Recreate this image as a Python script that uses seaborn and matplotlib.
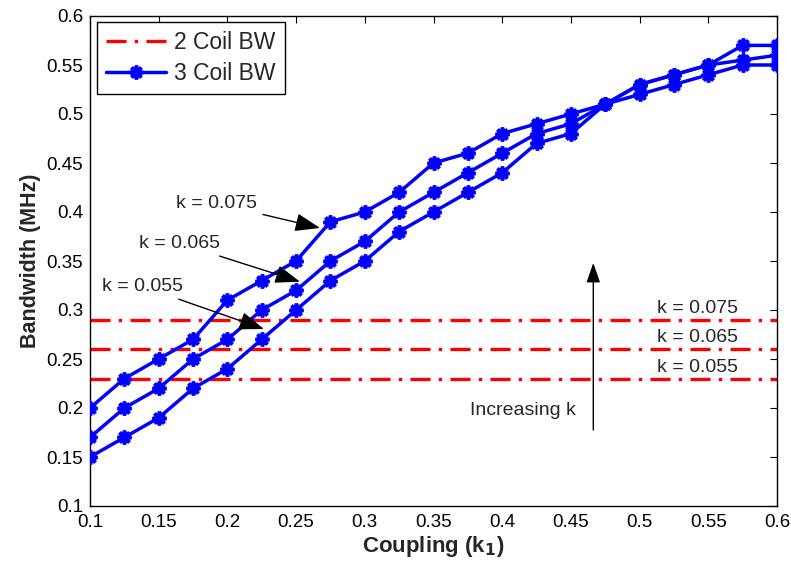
import matplotlib
matplotlib.use("Agg")
import matplotlib.pyplot as plt
import seaborn as sns
import pandas as pd
from matplotlib.lines import Line2D

# ---- data ----
coupling = [0.1, 0.125, 0.15, 0.175, 0.2, 0.225, 0.25, 0.275, 0.3, 0.325, 0.35,
            0.375, 0.4, 0.425, 0.45, 0.475, 0.5, 0.525, 0.55, 0.575, 0.6]
bw_k075 = [0.20, 0.23, 0.25, 0.27, 0.31, 0.33, 0.35, 0.39, 0.40, 0.42, 0.45,
           0.46, 0.48, 0.49, 0.50, 0.51, 0.52, 0.53, 0.54, 0.55, 0.55]
bw_k065 = [0.17, 0.20, 0.22, 0.25, 0.27, 0.30, 0.32, 0.35, 0.37, 0.40, 0.42,
           0.44, 0.46, 0.48, 0.49, 0.51, 0.53, 0.54, 0.55, 0.555, 0.56]
bw_k055 = [0.15, 0.17, 0.19, 0.22, 0.24, 0.27, 0.30, 0.33, 0.35, 0.38, 0.40,
           0.42, 0.44, 0.47, 0.48, 0.51, 0.53, 0.54, 0.55, 0.57, 0.57]
two_coil_bw = [0.29, 0.26, 0.23]
k_labels = ["k = 0.075", "k = 0.065", "k = 0.055"]
x_ticks = [0.1, 0.15, 0.2, 0.25, 0.3, 0.35, 0.4, 0.45, 0.5, 0.55, 0.6]
y_ticks = [0.1, 0.15, 0.2, 0.25, 0.3, 0.35, 0.4, 0.45, 0.5, 0.55, 0.6]

sns.set_theme(style="white")
plt.rcParams['font.family'] = ['Liberation Sans', 'DejaVu Sans']

df = pd.concat([
    pd.DataFrame({"coupling": coupling, "bw": bw_k075, "k": k_labels[0]}),
    pd.DataFrame({"coupling": coupling, "bw": bw_k065, "k": k_labels[1]}),
    pd.DataFrame({"coupling": coupling, "bw": bw_k055, "k": k_labels[2]}),
])

fig = plt.figure(figsize=(7.91, 5.66), dpi=100)
ax = fig.add_axes([90/791, 1-506/566, (777-90)/791, (506-16)/566])

blue = "#0000ff"
red = "#ff0000"
red_dash = (6, 2.5, 1, 2.5)
star = (8, 2, 0)

# 2 coil horizontal lines
for v in two_coil_bw:
    ax.plot([0.1, 0.6], [v, v], color=red, lw=2.4, dashes=red_dash, zorder=2)

sns.lineplot(data=df, x="coupling", y="bw", hue="k", units="k", estimator=None,
             palette=[blue, blue, blue], legend=False, ax=ax, lw=2.5,
             marker=star, markersize=10, markeredgewidth=2.6, markeredgecolor=blue,
             markerfacecolor=blue, zorder=3)

ax.set_xlim(0.1, 0.6)
ax.set_ylim(0.1, 0.6)
ax.set_xticks(x_ticks)
ax.set_yticks(y_ticks)
ax.set_xticklabels([f"{t:g}" for t in x_ticks])
ax.set_yticklabels([f"{t:g}" for t in y_ticks])
ax.tick_params(direction="in", length=5, width=0.8, top=True, right=True,
               labelsize=13.5, colors="black")
ax.tick_params(axis="x", pad=6)
ax.tick_params(axis="y", pad=5)
for s in ax.spines.values():
    s.set_color("black")
    s.set_linewidth(1.0)

ax.set_xlabel("Coupling (k$_\\mathbf{1}$)", fontsize=16, fontweight="bold", labelpad=2)
ax.set_ylabel("Bandwidth (MHz)", fontsize=15.5, fontweight="bold", labelpad=4)

# annotations for 3 coil curves
arrow_kw = dict(arrowstyle="-|>,head_length=1.1,head_width=0.4", color="black",
                lw=1.0, shrinkA=2, shrinkB=0)
ax.annotate(k_labels[0], xy=(0.2674, 0.3837), xytext=(0.192, 0.4087),
            fontsize=14, ha="center", va="center", arrowprops=arrow_kw)
ax.annotate(k_labels[1], xy=(0.2528, 0.3289), xytext=(0.1655, 0.3679),
            fontsize=14, ha="center", va="center", arrowprops=arrow_kw)
ax.annotate(k_labels[2], xy=(0.2266, 0.2806), xytext=(0.1382, 0.324),
            fontsize=14, ha="center", va="center", arrowprops=arrow_kw)

# right labels for 2 coil lines
for v, lab in zip(two_coil_bw, k_labels):
    ax.text(0.5425, v + 0.0115, lab, fontsize=14, ha="center", va="center")

# increasing k arrow
ax.annotate("", xy=(0.4663, 0.348), xytext=(0.4663, 0.1776),
            arrowprops=dict(arrowstyle="-|>,head_length=1.0,head_width=0.35",
                            color="black", lw=1.0, shrinkA=0, shrinkB=0))
ax.text(0.4148, 0.1974, "Increasing k", fontsize=14, ha="center", va="center")

handles = [Line2D([], [], color=red, lw=2.4, dashes=red_dash),
           Line2D([], [], color=blue, lw=2.5, marker=star, markersize=10,
                  markeredgewidth=2.6)]
leg = ax.legend(handles, ["2 Coil BW", "3 Coil BW"], loc="upper left",
                bbox_to_anchor=(0.0105, 0.988), fontsize=16.5, frameon=True,
                fancybox=False, edgecolor="black", framealpha=1,
                handlelength=2.6, borderpad=0.4, labelspacing=0.35,
                handletextpad=0.35, borderaxespad=0)
leg.get_frame().set_linewidth(1.0)

fig.savefig("out.png", dpi=100)
